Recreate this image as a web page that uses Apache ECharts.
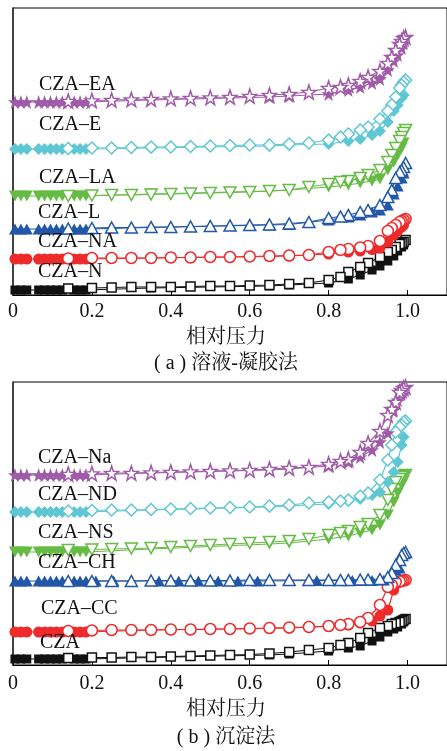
<!DOCTYPE html>
<html><head><meta charset="utf-8">
<script src="https://cdn.jsdelivr.net/npm/echarts@6/dist/echarts.min.js"></script>
<style>html,body{margin:0;padding:0;background:#fff}#c{width:447px;height:751px}</style>
</head><body><div id="c"></div>
<script>
// relative pressure values
const xTickLabels = ['0', '0.2', '0.4', '0.6', '0.8', '1.0'];
const adsX = [0.005, 0.02, 0.035, 0.065, 0.08, 0.095, 0.11, 0.125, 0.155, 0.17, 0.185, 0.35, 0.65, 0.7, 0.8, 0.85, 0.88, 0.91, 0.93, 0.95, 0.965, 0.975, 0.985, 0.99];
const desX = [0.995, 0.99, 0.985, 0.98, 0.97, 0.96, 0.95, 0.93, 0.9, 0.88, 0.85, 0.83, 0.8, 0.75, 0.7, 0.65, 0.6, 0.55, 0.5, 0.45, 0.4, 0.35, 0.3, 0.25, 0.2, 0.14];
const adsXCH = [0.005, 0.02, 0.035, 0.065, 0.08, 0.095, 0.11, 0.125, 0.155, 0.17, 0.185, 0.21, 0.255, 0.30, 0.37, 0.42, 0.47, 0.52, 0.57, 0.62, 0.77, 0.8, 0.83, 0.86, 0.88, 0.91, 0.94, 0.96, 0.97, 0.98];

// (a) sol-gel samples (offset volumes, arbitrary units)
const aN_ads  = [5,5,5,5,5,5,5,5,5,5,5, 7,9,10,12,16,20,25,29,34,39,44,48,50];
const aN_des  = [55,53,52,51,48,45,43,38,32,28,23,18,15,12,11,10,9.5,9,9,8.5,8,8,8,7.5,7,6.5];
const aNA_ads = [36,36,36,36,36,36,36,36,36,36,36, 37,38.5,39,41,43,44,45.5,47,53,60,64,68,70];
const aNA_des = [76,75,74,73,70,67,64,54,49,47.5,46,45,43,40,39.5,39,38.5,38,38,37.5,37.5,37,37,37,37,36.5];
const aL_ads  = [66,66,66,66,66,66,66,66,66,66,66, 67.5,70,70.5,75,78,80,83,85,90,101,109,117,122];
const aL_des  = [132,128,125,123,117,105,98,90,85,83,80,78.5,77,73,71.5,70.5,70,69.5,69,68.5,68,68,67.5,67.5,67,66.5];
const aLA_ads = [99,99,99,99,99,99,99,99,99,99,99, 101,104,105,108,110,112,114,116,125,133,140,147,152];
const aLA_des = [165,162,158,154,147,140,133,125,120,117,114,113,111,108,105,104,103,102.5,102,101.5,101,100.5,100,100,99.5,99];
const aE_ads  = [146,146,146,146,146,146,146,146,146,146,146, 147,149,150,151,154,156,160,164,173,184,190,197,200];
const aE_des  = [215,213,210,207,198,190,184,176,168,165,161,158,155,152,151,150,150,149.5,149,148.5,148,148,147.5,147,147,146.5];
const aEA_ads = [193,193,193,193,193,193,193,193,193,193,193, 195,198,199,201,205,208,212,216,225,234,240,247,252];
const aEA_des = [258,257,254,251,245,238,232,224,218,214,210,208,207,203,201,200,199,198,197.5,197,196.5,196,195.5,195,194.5,194];

// (b) precipitation samples
const bC_ads  = [6,6,6,6,6,6,6,6,6,6,6, 7.5,10,11,14,17,19,24,28,33,36,38,41,43];
const bC_des  = [46,45,44,43,42,41,39,37,32,27,22,20,17,15,13,11.5,10.5,10,9.5,9,8.5,8,8,7.5,7.5,7];
const bCC_ads = [33,33,33,33,33,33,33,33,33,33,33, 35,36.5,37,38.5,40,42,44,49,55,75,82,84,85];
const bCC_des = [85,84.5,84,83.5,83,80,78,60,47,43,41,40,39,38,37.5,37,36.5,36,36,35.5,35.5,35,35,35,34.5,34];
const bCH_ads = [84,84,84,84,84,84,84,84,84,84,84, 84,84,84,84,84,84,84,84,84,84.5,84.5,84.5,84.5,84.5,84.5,85,92,95,97];
const bCH_des = [113,112,110,105,100,92,88,86,85.5,85.5,85,85,85,85,85,85,85,84.5,84.5,84.5,84.5,84.5,84,84,84,84];
const bNS_ads = [113,113,113,113,113,113,113,113,113,113,113, 116,121,122,126,129,132,135,140,150,163,172,180,184];
const bNS_des = [190,189,188,186,183,176,165,150,141,138,134,132,130,126,124,123,122,121,120,119,118,117,116.5,116,115.5,115];
const bND_ads = [153,153,153,153,153,153,153,153,153,153,153, 155,158,159,161,164,166,170,173,183,193,203,220,228];
const bND_des = [244,243,240,238,233,220,205,185,172,169,165,164,163,162,160,159,158,157.5,157,156.5,156,155.5,155,155,154.5,154];
const bNa_ads = [190,190,190,190,190,190,190,190,190,190,190, 192,195,196,199,203,208,215,223,232,255,265,272,275];
const bNa_des = [278,277,275,273,263,256,250,234,222,213,206,204,201,198,197,196,195,194.5,194,193.5,193,192.5,192,192,191.5,191];

const labelsA = ['CZA–EA', 'CZA–E', 'CZA–LA', 'CZA–L', 'CZA–NA', 'CZA–N'];
const labelsB = ['CZA–Na', 'CZA–ND', 'CZA–NS', 'CZA–CH', 'CZA–CC', 'CZA'];

const C = { k: '#111111', r: '#ee2a2a', b: '#2257a7', g: '#66bb44', c: '#5fc7d3', p: '#a05ba8' };
const STAR = 'path://M12,0 L14.9,8.6 L24,8.8 L16.8,14.3 L19.4,23 L12,17.8 L4.6,23 L7.2,14.3 L0,8.8 L9.1,8.6 Z';
const SH = {
  sq: { symbol: 'rect', size: 9 },
  ci: { symbol: 'circle', size: 11 },
  up: { symbol: 'triangle', size: [12, 11] },
  dn: { symbol: 'triangle', size: [12, 11], rotate: 180 },
  di: { symbol: 'diamond', size: [12, 12] },
  st: { symbol: STAR, size: 14 }
};

function zip(xs, ys) { return xs.map((x, i) => [x, ys[i]]); }
function mk(gi, xs, ys, color, sh, filled) {
  return {
    type: 'line', xAxisIndex: gi, yAxisIndex: gi,
    data: zip(xs, ys),
    symbol: sh.symbol, symbolSize: sh.size, symbolRotate: sh.rotate || 0,
    showAllSymbol: true,
    lineStyle: { color: color, width: 1.2 },
    itemStyle: filled ? { color: color, borderWidth: 0 } : { color: '#ffffff', borderColor: color, borderWidth: 1.5 },
    emphasis: { disabled: true }, silent: true, animation: false
  };
}

const series = [
  mk(0, adsX, aN_ads, C.k, SH.sq, true),   mk(0, desX, aN_des, C.k, SH.sq, false),
  mk(0, adsX, aNA_ads, C.r, SH.ci, true),  mk(0, desX, aNA_des, C.r, SH.ci, false),
  mk(0, adsX, aL_ads, C.b, SH.up, true),   mk(0, desX, aL_des, C.b, SH.up, false),
  mk(0, adsX, aLA_ads, C.g, SH.dn, true),  mk(0, desX, aLA_des, C.g, SH.dn, false),
  mk(0, adsX, aE_ads, C.c, SH.di, true),   mk(0, desX, aE_des, C.c, SH.di, false),
  mk(0, adsX, aEA_ads, C.p, SH.st, true),  mk(0, desX, aEA_des, C.p, SH.st, false),
  mk(1, adsX, bC_ads, C.k, SH.sq, true),   mk(1, desX, bC_des, C.k, SH.sq, false),
  mk(1, adsX, bCC_ads, C.r, SH.ci, true),  mk(1, desX, bCC_des, C.r, SH.ci, false),
  mk(1, adsXCH, bCH_ads, C.b, SH.up, true),mk(1, desX, bCH_des, C.b, SH.up, false),
  mk(1, adsX, bNS_ads, C.g, SH.dn, true),  mk(1, desX, bNS_des, C.g, SH.dn, false),
  mk(1, adsX, bND_ads, C.c, SH.di, true),  mk(1, desX, bND_des, C.c, SH.di, false),
  mk(1, adsX, bNa_ads, C.p, SH.st, true),  mk(1, desX, bNa_des, C.p, SH.st, false)
];

const FONT = 'Liberation Serif, Noto Serif CJK SC, Noto Sans CJK SC, serif';
function xAx(gi, margin) {
  return {
    type: 'value', gridIndex: gi, min: 0, max: 1.1, interval: 0.2,
    axisLine: { show: true, lineStyle: { color: '#000', width: 1.2 } },
    axisTick: { show: true, inside: true, length: 5, lineStyle: { color: '#000', width: 1 } },
    axisLabel: { show: true, margin: margin, fontFamily: FONT, fontSize: 20, color: '#111',
      showMaxLabel: false, formatter: v => { const i = Math.round(v / 0.2); return xTickLabels[i] !== undefined && Math.abs(v - i * 0.2) < 1e-6 ? xTickLabels[i] : ''; } },
    splitLine: { show: false }
  };
}
function yAx(gi, max) {
  return {
    type: 'value', gridIndex: gi, min: 0, max: max,
    axisLine: { show: true, lineStyle: { color: '#333', width: 1.6 } },
    axisTick: { show: false }, axisLabel: { show: false }, splitLine: { show: false }
  };
}
function txt(x, y, s, align) {
  return { type: 'text', x: x, y: y, z: 100,
    style: { text: s, fontFamily: FONT, fontSize: 20, fill: '#111', align: align || 'left', verticalAlign: 'middle' } };
}
const labelPosA = [[39, 85], [39, 125], [39, 178], [38, 213], [38, 242], [38, 272]];
const labelPosB = [[38, 458], [38, 495], [38, 533], [38, 563], [41, 609], [40, 643]];
const graphics = [];
labelsA.forEach((s, i) => graphics.push(txt(labelPosA[i][0], labelPosA[i][1], s)));
labelsB.forEach((s, i) => graphics.push(txt(labelPosB[i][0], labelPosB[i][1], s)));
graphics.push(txt(226, 338, '相对压力', 'center'));
graphics.push(txt(226, 364, '( a ) 溶液-凝胶法', 'center'));
graphics.push(txt(226, 710, '相对压力', 'center'));
graphics.push(txt(226, 738, '( b ) 沉淀法', 'center'));

const chart = echarts.init(document.getElementById('c'), null, { renderer: 'canvas' });
chart.setOption({
  animation: false,
  backgroundColor: '#fff',
  grid: [
    { left: 13, top: 8, width: 439, height: 287, show: true, borderColor: '#000', borderWidth: 1, backgroundColor: 'transparent' },
    { left: 13, top: 382, width: 439, height: 283, show: true, borderColor: '#000', borderWidth: 1, backgroundColor: 'transparent' }
  ],
  xAxis: [xAx(0, 7), xAx(1, 9)],
  yAxis: [yAx(0, 287), yAx(1, 283)],
  series: series,
  graphic: graphics
});
</script></body></html>
